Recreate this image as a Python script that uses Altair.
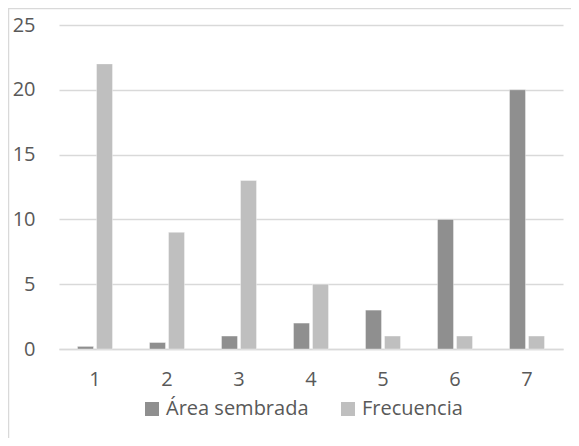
import altair as alt
import pandas as pd

categories = ["1", "2", "3", "4", "5", "6", "7"]
area_sembrada = [0.2, 0.5, 1, 2, 3, 10, 20]
frecuencia = [22, 9, 13, 5, 1, 1, 1]
series_names = ["Área sembrada", "Frecuencia"]
colors = ["#8f8f8f", "#bfbfbf"]

rows = []
for c, a, f in zip(categories, area_sembrada, frecuencia):
    rows.append({"cat": c, "serie": series_names[0], "valor": a})
    rows.append({"cat": c, "serie": series_names[1], "valor": f})
df = pd.DataFrame(rows)

FONT = "Open Sans"
FS = 20
W, H = 504, 324
PL, PT = 51, 17

frame = alt.Chart(pd.DataFrame({"a": [0]})).mark_rect(
    fill=None, stroke="#d9d9d9", strokeWidth=1.5, clip=False
).encode(
    x=alt.value(-PL + 0.5), x2=alt.value(W + 100),
    y=alt.value(-PT + 0.5), y2=alt.value(H + 200),
)

bars = alt.Chart(df).mark_bar(stroke="#ffffff", strokeWidth=0.6, strokeOpacity=0.6).encode(
    x=alt.X("cat:N", sort=categories, title=None,
            scale=alt.Scale(paddingInner=0.514, paddingOuter=0.257),
            axis=alt.Axis(labelAngle=0, labelFont=FONT, labelFontSize=FS,
                          labelColor="#595959", ticks=False, domainColor="#d9d9d9",
                          domainWidth=1.5, labelPadding=20)),
    xOffset=alt.XOffset("serie:N", sort=series_names, scale=alt.Scale(paddingInner=0.16)),
    y=alt.Y("valor:Q", title=None,
            scale=alt.Scale(domain=[0, 25], nice=False),
            axis=alt.Axis(values=[0, 5, 10, 15, 20, 25], labelFont=FONT, labelFontSize=FS,
                          labelColor="#595959", ticks=False, domain=False,
                          gridColor="#d9d9d9", gridWidth=1.5, labelPadding=24)),
    color=alt.Color("serie:N", sort=series_names,
                    scale=alt.Scale(domain=series_names, range=colors),
                    legend=alt.Legend(title=None, orient="none", legendX=83, legendY=374,
                                      direction="horizontal", symbolType="square",
                                      symbolSize=196, symbolStrokeWidth=0,
                                      labelFont=FONT, labelFontSize=FS,
                                      labelColor="#595959", columnPadding=29,
                                      labelOffset=4)),
)

chart = alt.layer(frame, bars).properties(
    width=W, height=H,
    autosize=alt.AutoSizeParams(type="none"),
    padding={"left": PL, "top": PT, "right": 8, "bottom": 89},
).configure_view(stroke=None).configure_axis(grid=True).configure_axisX(grid=False)

chart.save("out.html", embed_options={"renderer": "svg", "actions": False})
